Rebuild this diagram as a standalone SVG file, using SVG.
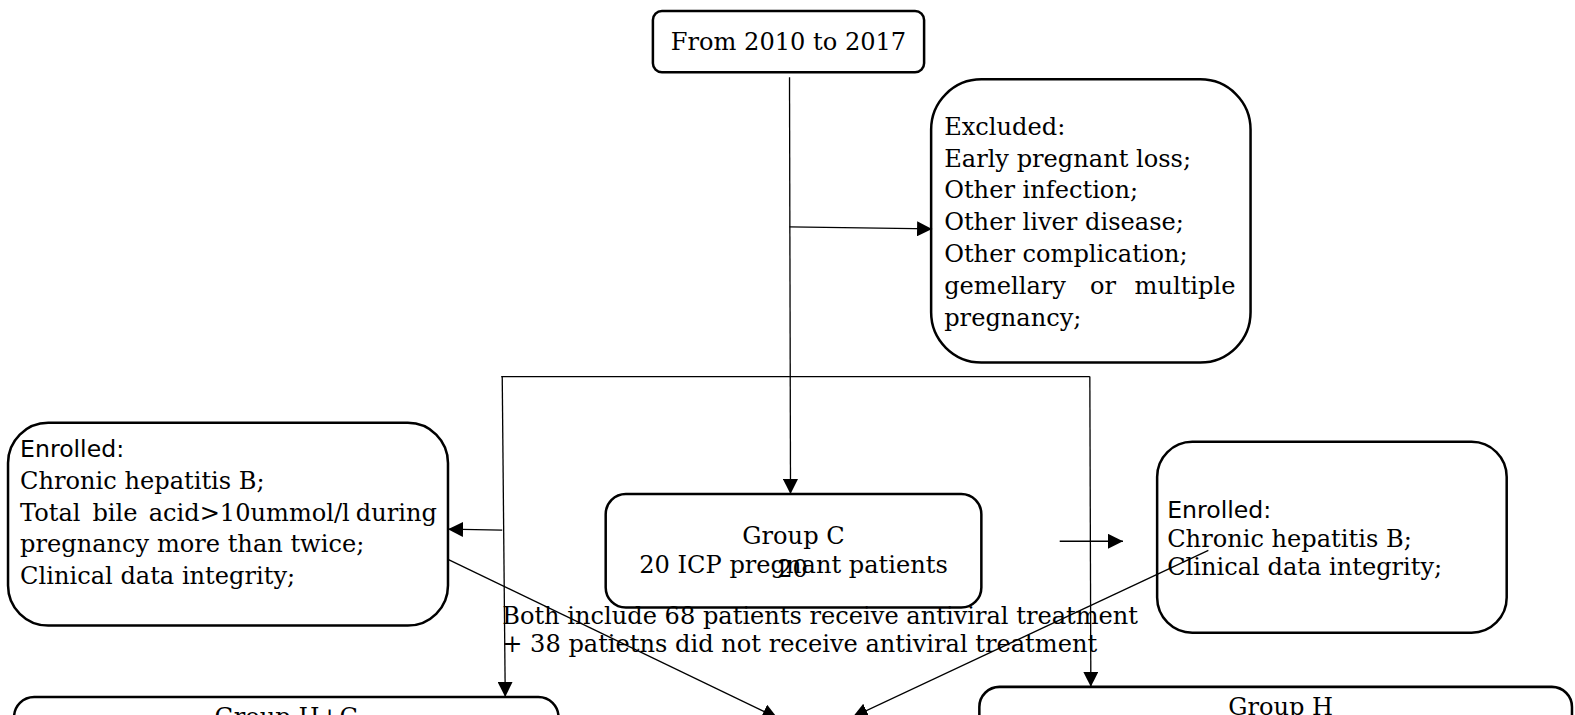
<svg xmlns="http://www.w3.org/2000/svg" width="1575" height="715" viewBox="0 0 1575 715">
<defs>
<style>
.box{fill:#fff;stroke:#000;stroke-width:2.5}
.ln{fill:none;stroke:#000;stroke-width:1.3}
.t{font-family:"DejaVu Serif",serif;font-size:24px;fill:#000}
.s{font-family:"DejaVu Sans",sans-serif;font-size:23.5px;fill:#000}
.c{text-anchor:middle}
.e{text-anchor:end}
</style>
<marker id="ah" viewBox="0 0 15 15" refX="15" refY="7.5" markerWidth="15" markerHeight="15" markerUnits="userSpaceOnUse" orient="auto">
<path d="M0,0 L15,7.5 L0,15 z" fill="#000"/>
</marker>
</defs>
<rect width="1575" height="715" fill="#fff"/>
<g transform="scale(1.00446,1.0042)">
<g id="n-start">
<rect class="box" x="650" y="11" width="270" height="61" rx="9"/>
<text class="t c" x="785" y="50">From 2010 to 2017</text>
</g>
<g id="n-excluded">
<rect class="box" x="927" y="79" width="318" height="282" rx="50"/>
<text class="t" x="940" y="134">Excluded:</text>
<text class="t" x="940" y="166">Early pregnant loss;</text>
<text class="t" x="940" y="197">Other infection;</text>
<text class="t" x="940" y="229">Other liver disease;</text>
<text class="t" x="940" y="261">Other complication;</text>
<text class="t" x="940" y="293">gemellary</text>
<text class="t c" x="1098" y="293">or</text>
<text class="t e" x="1230" y="293">multiple</text>
<text class="t" x="940" y="325">pregnancy;</text>
</g>
<g id="n-enrolled-left">
<rect class="box" x="8" y="421" width="438" height="202" rx="40"/>
<text class="s" x="20" y="455">Enrolled:</text>
<text class="t" x="20" y="487">Chronic hepatitis B;</text>
<text class="t" x="20" y="519">Total</text>
<text class="t" x="92" y="519">bile</text>
<text class="t" x="148" y="519">acid&gt;10ummol/l</text>
<text class="t e" x="435" y="519">during</text>
<text class="t" x="20" y="550">pregnancy more than twice;</text>
<text class="t" x="20" y="582">Clinical data integrity;</text>
</g>
<g id="n-groupc">
<rect class="box" x="603" y="492" width="374" height="113" rx="20"/>
<text class="t c" x="790" y="542">Group C</text>
<text class="t c" x="790" y="570.5">20 ICP pregnant patients</text>
<text class="t c" x="789" y="575">20</text>
</g>
<g id="n-enrolled-right">
<rect class="box" x="1152" y="440" width="348" height="190" rx="35"/>
<text class="s" x="1162" y="516">Enrolled:</text>
<text class="t" x="1162" y="545">Chronic hepatitis B;</text>
<text class="t" x="1162" y="573">Clinical data integrity;</text>
</g>
<g id="n-note">
<text class="t" x="500" y="621">Both include 68 patients receive antiviral treatment</text>
<text class="t" x="500" y="649">+ 38 patietns did not receive antiviral treatment</text>
</g>
<g id="n-grouphc">
<rect class="box" x="14" y="694" width="542" height="60" rx="20"/>
<text class="t c" x="285" y="722">Group H+C</text>
</g>
<g id="n-grouph">
<rect class="box" x="975" y="684" width="590" height="60" rx="20"/>
<text class="t c" x="1275" y="712.5">Group H</text>
</g>
<g id="connectors">
<line class="ln" x1="786" y1="77" x2="787" y2="492" marker-end="url(#ah)"/>
<line class="ln" x1="786" y1="226" x2="928" y2="228" marker-end="url(#ah)"/>
<line class="ln" x1="499" y1="375" x2="1085" y2="375"/>
<line class="ln" x1="500" y1="375" x2="503" y2="694" marker-end="url(#ah)"/>
<line class="ln" x1="1085" y1="375" x2="1086" y2="684" marker-end="url(#ah)"/>
<line class="ln" x1="500" y1="528" x2="446" y2="527" marker-end="url(#ah)"/>
<line class="ln" x1="1055" y1="539" x2="1118" y2="539" marker-end="url(#ah)"/>
<line class="ln" x1="446" y1="557" x2="774" y2="715" marker-end="url(#ah)"/>
<line class="ln" x1="1203" y1="548" x2="849" y2="714" marker-end="url(#ah)"/>
</g>
</g>
</svg>
